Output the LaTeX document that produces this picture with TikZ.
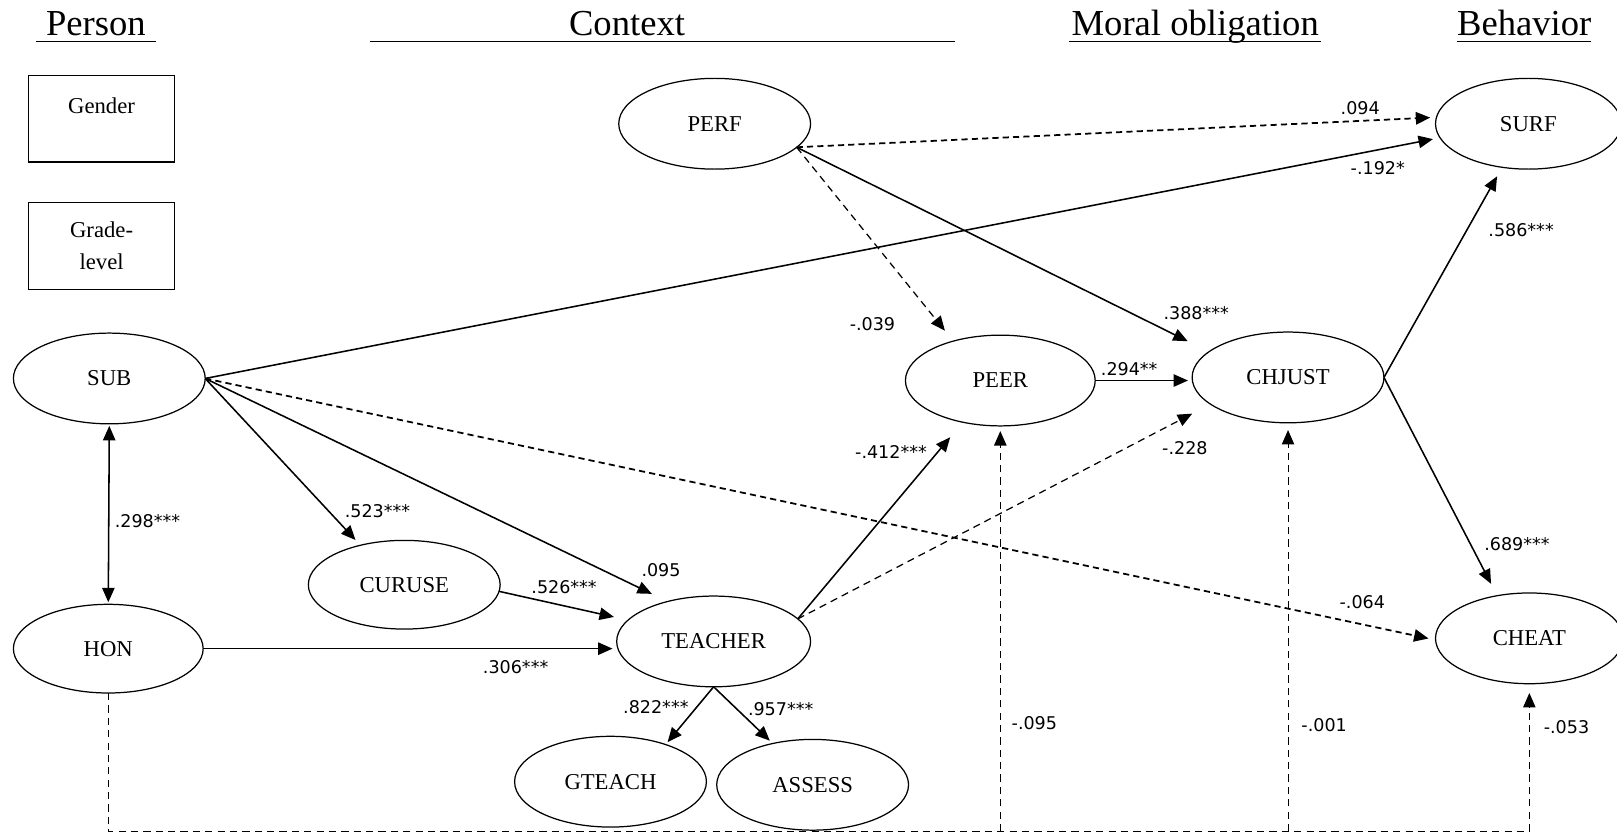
\documentclass[tikz,border=0pt]{standalone}
\usepackage{fontspec}
\setmainfont{Liberation Serif}
\newfontfamily\coeffamily{DejaVu Sans}
\usetikzlibrary{arrows.meta,shapes.geometric}
\begin{document}
\begin{tikzpicture}[x=1pt,y=-1pt,
  latent/.style={ellipse, draw, line width=1.2pt, inner sep=0pt, outer sep=0pt,
    font=\fontsize{22}{26}\selectfont},
  obsbox/.style={rectangle, draw, line width=1.2pt, inner sep=0pt, outer sep=0pt,
    minimum width=141pt, minimum height=84pt, align=center,
    font=\fontsize{22}{31}\selectfont},
  header/.style={font=\fontsize{35.5}{40}\selectfont, inner sep=0pt, anchor=base},
  coef/.style={font=\coeffamily\fontsize{17}{20}\selectfont, inner sep=0pt},
  tip/.style={-{Triangle[length=14pt,width=12pt]}},
  sigpath/.style={tip, line width=1.5pt},
  nspath/.style={tip, line width=1.2pt, dash pattern=on 7pt off 5pt},
  nsdense/.style={tip, line width=1.7pt, dash pattern=on 6pt off 4pt},
  rule/.style={line width=1.4pt}
]
\useasboundingbox (0,0) rectangle (1568,810);

% column headings with their rules
\node[header] (hPerson)  at (93,34)   {Person};
\node[header] (hContext) at (608,34)  {Context};
\node[header] (hMoral)   at (1159,34) {Moral obligation};
\node[header] (hBehav)   at (1478,34) {Behavior};
\draw[rule] (35,40) -- (151,40);
\draw[rule] (359,40) -- (926,40);
\draw[rule] (1037,40) -- (1281,40);
\draw[rule] (1413,40) -- (1543,40);

% observed covariates
\node[obsbox, text height=15pt, text depth=25pt] (gender) at (98.5,115) {Gender};
\node[obsbox] (grade) at (98.5,238.5) {Grade-\\level};

% latent variables
\node[latent, minimum width=186pt, minimum height=88pt] (PERF)    at (693,120)  {PERF};
\node[latent, minimum width=180pt, minimum height=88pt] (SURF)    at (1482,120) {SURF};
\node[latent, minimum width=186pt, minimum height=88pt] (SUB)     at (106,367)  {SUB};
\node[latent, minimum width=184pt, minimum height=86pt] (HON)     at (105,629)  {HON};
\node[latent, minimum width=186pt, minimum height=86pt] (CURUSE)  at (392,567)  {CURUSE};
\node[latent, minimum width=188pt, minimum height=88pt] (TEACHER) at (692,622)  {TEACHER};
\node[latent, minimum width=186pt, minimum height=88pt] (GTEACH)  at (592,758)  {GTEACH};
\node[latent, minimum width=186pt, minimum height=88pt] (ASSESS)  at (788,761)  {ASSESS};
\node[latent, minimum width=184pt, minimum height=88pt] (PEER)    at (970,369)  {PEER};
\node[latent, minimum width=186pt, minimum height=88pt] (CHJUST)  at (1249,366) {CHJUST};
\node[latent, minimum width=182pt, minimum height=88pt] (CHEAT)   at (1483,619) {CHEAT};

% structural paths
\draw[nsdense, shorten >=6pt]  (PERF.-16) -- (SURF.176);
\draw[sigpath, shorten >=7pt]  (SUB.east) -- (SURF.189);
\draw[nspath,  shorten >=13pt] (PERF.-16) -- (PEER.140);
\draw[sigpath, shorten >=23pt] (PERF.-16) -- (CHJUST.162);
\draw[sigpath, shorten >=4pt]  (PEER.east) -- (PEER.east -| CHJUST.west);
\draw[sigpath, shorten >=19pt] (TEACHER.15) -- (PEER.228);
\draw[nspath,  shorten >=20pt] (TEACHER.15) -- (CHJUST.199);
\draw[sigpath, shorten >=10pt] (CHJUST.east) -- (SURF.239);
\draw[sigpath, shorten >=13pt] (CHJUST.east) -- (CHEAT.127);
\draw[nsdense, shorten >=7pt]  (SUB.east) -- (CHEAT.181);
\draw[sigpath, shorten >=7pt]  (SUB.east) -- (CURUSE.138);
\draw[sigpath, shorten >=17pt] (SUB.east) -- (TEACHER.139);
\draw[{Triangle[length=14pt,width=12pt]}-{Triangle[length=14pt,width=12pt]},
      line width=1.5pt, shorten >=2pt, shorten <=2pt] (SUB.south) -- (HON.north);
\draw[sigpath, shorten >=14pt] (CURUSE.-4) -- (TEACHER.166);
\draw[sigpath, shorten >=4pt]  (HON.east) -- (HON.east -| TEACHER.west);
\draw[sigpath, shorten >=3pt]  (TEACHER.south) -- (GTEACH.34);
\draw[sigpath, shorten >=4pt]  (TEACHER.south) -- (ASSESS.134);

% HON effects routed along the bottom
\coordinate (floor) at (0,806);
\draw[nspath, line width=1pt, shorten >=9pt] (HON.south) |- (floor -| CHEAT.south) -- (CHEAT.south);
\draw[nspath, line width=1pt, shorten >=5pt] (floor -| PEER.south) -- (PEER.south);
\draw[nspath, line width=1pt, shorten >=7pt] (floor -| CHJUST.south) -- (CHJUST.south);

% path coefficients
\node[coef] (k1)  at (1319,105) {.094};
\node[coef] (k2)  at (1336,163) {-.192*};
\node[coef] (k3)  at (846,314)  {-.039};
\node[coef] (k4)  at (1160,304) {.388***};
\node[coef] (k5)  at (1095,358) {.294**};
\node[coef] (k6)  at (864,438)  {-.412***};
\node[coef] (k7)  at (1149,435) {-.228};
\node[coef] (k8)  at (1475,223) {.586***};
\node[coef] (k9)  at (1471,528) {.689***};
\node[coef] (k10) at (1321,584) {-.064};
\node[coef] (k11) at (366,496)  {.523***};
\node[coef] (k12) at (641,553)  {.095};
\node[coef] (k13) at (143,505)  {.298***};
\node[coef] (k14) at (547,569)  {.526***};
\node[coef] (k15) at (500,647)  {.306***};
\node[coef] (k16) at (636,686)  {.822***};
\node[coef] (k17) at (757,688)  {.957***};
\node[coef] (k18) at (1003,701) {-.095};
\node[coef] (k19) at (1284,703) {-.001};
\node[coef] (k20) at (1519,705) {-.053};
\end{tikzpicture}
\end{document}
